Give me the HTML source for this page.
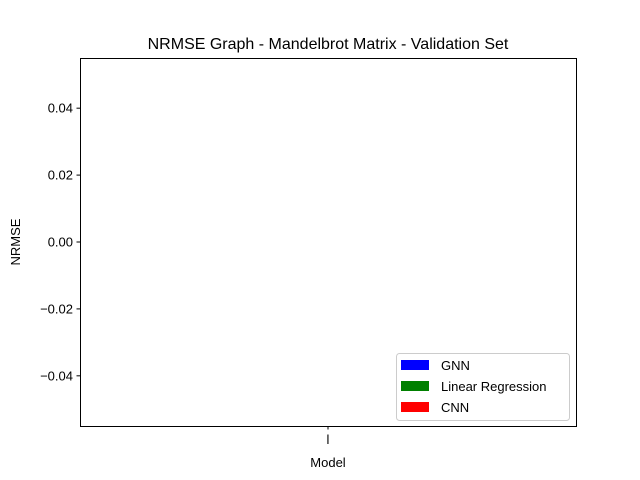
<!DOCTYPE html>
<html><head><meta charset="utf-8"><style>
body{margin:0;background:#fff;}
svg{display:block;font-family:"Liberation Sans","DejaVu Sans",sans-serif;}
</style></head><body>
<svg id="chart" width="640" height="480">
<rect width="640" height="480" fill="#fff"/>
<text x="328" y="49" font-size="16" text-anchor="middle">NRMSE Graph - Mandelbrot Matrix - Validation Set</text>
<g id="bars"></g>
<g id="yticks"></g>
<g id="xticks"></g>
<rect x="80.5" y="58.5" width="496" height="368" fill="none" stroke="#000" stroke-width="1"/>
<text x="20" y="242" font-size="13" text-anchor="middle" transform="rotate(-90 20 242)">NRMSE</text>
<text x="328" y="467" font-size="13" text-anchor="middle">Model</text>
<g>
<rect x="396.5" y="353.5" width="173" height="67" rx="3" fill="#fff" fill-opacity="0.8" stroke="#ccc"/>
<g><rect x="401" y="360" width="28" height="10" fill="#0000ff"/><text x="441" y="370" font-size="13">GNN</text></g>
<g><rect x="401" y="381" width="28" height="10" fill="#008000"/><text x="441" y="391" font-size="13">Linear Regression</text></g>
<g><rect x="401" y="402" width="28" height="10" fill="#ff0000"/><text x="441" y="412" font-size="13">CNN</text></g>
</g>
</svg>
<script>
const categories = ["l"];
const seriesNames = ["GNN","Linear Regression","CNN"];
const seriesValues = [[0],[0],[0]];
const yTickValues = [-0.04,-0.02,0.00,0.02,0.04];
const yTickLabels = ["\u22120.04","\u22120.02","0.00","0.02","0.04"];
const colors = ["#0000ff","#008000","#ff0000"];
const SVGNS="http://www.w3.org/2000/svg";
const yMin=-0.055,yMax=0.055,plotTop=58,plotBottom=426,plotLeft=80,plotRight=576;
function yScale(v){return plotBottom-(v-yMin)/(yMax-yMin)*(plotBottom-plotTop);}
function xScale(i){return plotLeft+(i+0.5)/categories.length*(plotRight-plotLeft);}
const yt=document.getElementById('yticks');
yTickValues.forEach((v,i)=>{
  const y=yScale(v);
  const l=document.createElementNS(SVGNS,'line');
  l.setAttribute('x1',plotLeft-3.5);l.setAttribute('x2',plotLeft);l.setAttribute('y1',y);l.setAttribute('y2',y);l.setAttribute('stroke','#000');
  
  
  yt.appendChild(l);
  const t=document.createElementNS(SVGNS,'text');
  t.setAttribute('x',plotLeft-7);t.setAttribute('y',y+4.5);t.setAttribute('font-size','13');t.setAttribute('text-anchor','end');
  t.textContent=yTickLabels[i];
  
  
  yt.appendChild(t);
});
const xt=document.getElementById('xticks');
categories.forEach((c,i)=>{
  const x=xScale(i);
  const l=document.createElementNS(SVGNS,'line');
  l.setAttribute('x1',x);l.setAttribute('x2',x);l.setAttribute('y1',plotBottom);l.setAttribute('y2',plotBottom+3.5);l.setAttribute('stroke','#000');
  
  
  xt.appendChild(l);
  const t=document.createElementNS(SVGNS,'text');
  t.setAttribute('x',x);t.setAttribute('y',plotBottom+18);t.setAttribute('font-size','13');t.setAttribute('text-anchor','middle');
  t.textContent=c;
  
  
  xt.appendChild(t);
});
const bg=document.getElementById('bars');
const bw=20;
seriesValues.forEach((vals,s)=>{
  vals.forEach((v,i)=>{
    const x=xScale(i)+(s-1)*bw-bw/2;
    const y0=yScale(0),y1=yScale(v);
    const r=document.createElementNS(SVGNS,'rect');
    r.setAttribute('x',x);r.setAttribute('width',bw);
    r.setAttribute('y',Math.min(y0,y1));r.setAttribute('height',Math.abs(y1-y0));
    r.setAttribute('fill',colors[s]);
    
    
    bg.appendChild(r);
  });
});
</script>
</body></html>
